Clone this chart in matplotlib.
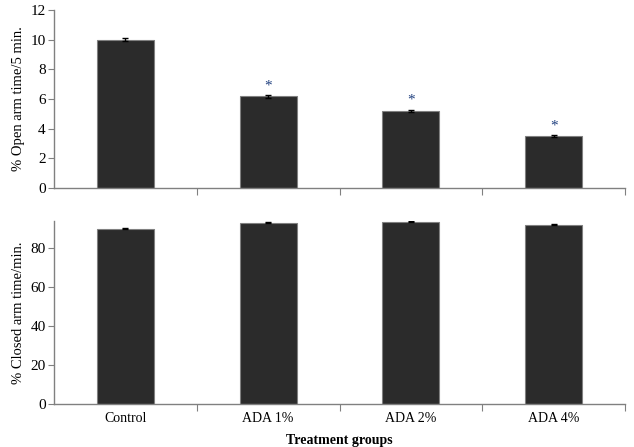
import numpy as np
import matplotlib.pyplot as plt

groups = ['Control', 'ADA 1%', 'ADA 2%', 'ADA 4%']
open_arm = [10.0, 6.2, 5.2, 3.5]
open_err = [0.08, 0.1, 0.08, 0.08]
closed_arm = [90.0, 93.0, 93.5, 92.1]
closed_err = [0.3, 0.3, 0.2, 0.3]
signif = ['', '*', '*', '*']

plt.rcParams['font.family'] = ['Liberation Serif', 'DejaVu Serif']

bar_color = '#2b2b2b'
edge_color = '#808080'
spine_color = '#808080'

fig = plt.figure(figsize=(6.34, 4.47), dpi=100)
ax1 = fig.add_axes([0.085, 0.579, 0.901, 0.399])
ax2 = fig.add_axes([0.085, 0.096, 0.901, 0.41])

x = np.arange(len(groups))


def style_axis(ax):
    for s in ['top', 'right']:
        ax.spines[s].set_visible(False)
    for s in ['left', 'bottom']:
        ax.spines[s].set_color(spine_color)
        ax.spines[s].set_linewidth(1.0)
    ax.set_xlim(-0.5, len(groups) - 0.5)
    ax.set_xticks(np.arange(len(groups)) + 0.5)
    ax.set_xticklabels([])
    ax.set_xticks(x, minor=True)
    ax.tick_params(axis='x', which='major', length=5, color=spine_color, direction='out')
    ax.tick_params(axis='x', which='minor', length=0)
    ax.tick_params(axis='y', length=4, color=spine_color, labelsize=11, pad=2)


# 上图: open arm
ax1.bar(x, open_arm, width=0.4, color=bar_color, edgecolor=edge_color, linewidth=0.8,
        yerr=open_err, error_kw=dict(ecolor='black', capsize=2, elinewidth=1))
for i in range(len(groups)):
    if signif[i]:
        ax1.text(x[i], open_arm[i] + 0.7, signif[i], ha='center', va='center',
                 fontsize=11, color='#1f3f7f')
ax1.set_ylim(0, 12)
ax1.set_yticks(np.arange(0, 13, 2))
ax1.set_ylabel('% Open arm time/5 min.', fontsize=10.5, labelpad=4)
style_axis(ax1)

# 下图: closed arm
ax2.bar(x, closed_arm, width=0.4, color=bar_color, edgecolor=edge_color, linewidth=0.8,
        yerr=closed_err, error_kw=dict(ecolor='black', capsize=2, elinewidth=1))
ax2.set_ylim(0, 94)
ax2.set_yticks(np.arange(0, 81, 20))
ax2.set_ylabel('% Closed arm time/min.', fontsize=10.5, labelpad=4)
style_axis(ax2)
ax2.set_xticklabels(groups, minor=True, fontsize=10)
ax2.tick_params(axis='x', which='minor', pad=6)
ax2.set_xlabel('Treatment groups', fontsize=10, fontweight='bold', labelpad=6)

fig.savefig('out.png', dpi=100)
